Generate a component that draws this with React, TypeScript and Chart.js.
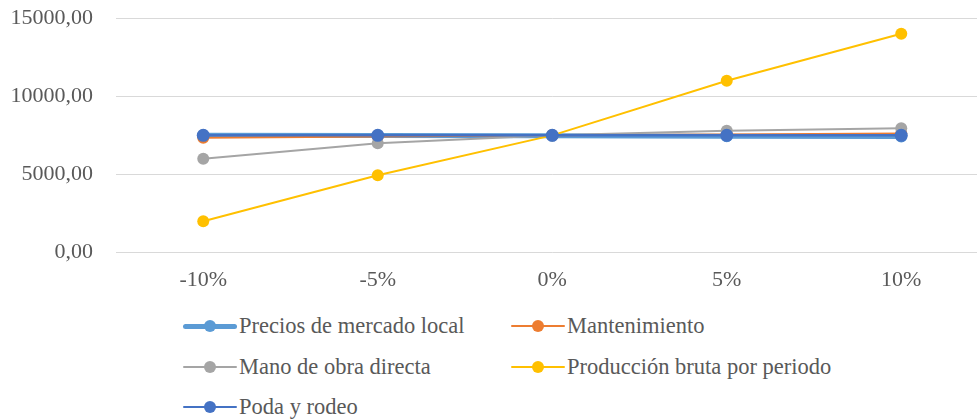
import React, { useEffect, useRef } from "react";
import { Chart, registerables } from "chart.js";

Chart.register(...registerables);

const categories = ["-10%", "-5%", "0%", "5%", "10%"];
const preciosMercado = [7500, 7490, 7480, 7440, 7420];
const mantenimiento = [7350, 7430, 7500, 7560, 7620];
const manoObra = [6000, 7000, 7500, 7800, 7950];
const produccionBruta = [2000, 4950, 7500, 11000, 14000];
const podaRodeo = [7500, 7500, 7500, 7500, 7500];
const yTicks = [0, 5000, 10000, 15000];

const seriesNames = [
  "Precios de mercado local",
  "Mantenimiento",
  "Mano de obra directa",
  "Producción bruta por periodo",
  "Poda y rodeo",
];
const seriesColors = ["#5B9BD5", "#ED7D31", "#A5A5A5", "#FFC000", "#4472C4"];
const seriesWidths = [5, 2, 2, 2, 2.5];
const seriesData = [preciosMercado, mantenimiento, manoObra, produccionBruta, podaRodeo];

const FONT = '"Liberation Serif", "Times New Roman", serif';
const TEXT = "#595959";
const CANVAS_W = 995;
const CANVAS_H = 318;
const SHIFT = -18;

export default function App() {
  const ref = useRef<HTMLCanvasElement | null>(null);
  useEffect(() => {
    if (!ref.current) return;
    const chart = new Chart(ref.current, {
      type: "line",
      data: {
        labels: categories,
        datasets: seriesNames.map((name, i) => ({
          label: name,
          data: seriesData[i],
          borderColor: seriesColors[i],
          backgroundColor: seriesColors[i],
          borderWidth: seriesWidths[i],
          pointRadius: i === 4 ? 6.5 : 6,
          pointBorderWidth: 0,
          pointBackgroundColor: seriesColors[i],
          pointHoverRadius: 6,
          tension: 0,
          order: 4 - i,
        })),
      },
      options: {
        animation: false,
        responsive: false,
        maintainAspectRatio: false,
        layout: { padding: { top: 0, right: 1, left: 0, bottom: 0 } },
        plugins: { legend: { display: false }, tooltip: { enabled: false } },
        scales: {
          x: {
            type: "category",
            offset: true,
            grid: { display: false, drawTicks: false },
            border: { display: false },
            ticks: { color: TEXT, font: { family: FONT, size: 22 }, padding: 15 },
            afterFit: (s: any) => {
              s.height = CANVAS_H + SHIFT - 252.5;
            },
          },
          y: {
            min: 0,
            max: 15000,
            afterBuildTicks: (s: any) => {
              s.ticks = yTicks.map((v) => ({ value: v }));
            },
            grid: { color: "#D9D9D9", lineWidth: 1, drawTicks: false },
            border: { display: false },
            ticks: {
              color: TEXT,
              font: { family: FONT, size: 22 },
              padding: 23,
              callback: (v: any) => Number(v).toFixed(2).replace(".", ","),
            },
            afterFit: (s: any) => {
              s.width = 116;
            },
          },
        },
      },
    });
    return () => chart.destroy();
  }, []);

  const legendRows = [
    [0, 1],
    [2, 3],
    [4],
  ];
  const colX = [183, 511];
  const rowY = [326, 367, 407];

  return (
    <div
      style={{
        position: "fixed",
        left: 0,
        top: 0,
        width: 977,
        height: 419,
        overflow: "hidden",
        background: "#fff",
      }}
    >
      <div style={{ position: "absolute", left: 0, top: SHIFT, width: CANVAS_W, height: CANVAS_H }}>
        <canvas
          ref={ref}
          width={CANVAS_W}
          height={CANVAS_H}
          style={{ width: CANVAS_W, height: CANVAS_H, display: "block" }}
        />
      </div>
      {legendRows.map((row, r) =>
        row.map((idx, c) => (
          <div
            key={idx}
            style={{
              position: "absolute",
              left: colX[c],
              top: rowY[r] - 14,
              height: 28,
              display: "flex",
              alignItems: "center",
              whiteSpace: "nowrap",
              fontFamily: FONT,
              fontSize: 22.5,
              color: TEXT,
            }}
          >
            <div style={{ position: "relative", width: 54, height: 28, marginRight: 2 }}>
              <div
                style={{
                  position: "absolute",
                  left: 0,
                  right: 0,
                  top: 14 - seriesWidths[idx] / 2,
                  height: seriesWidths[idx],
                  background: seriesColors[idx],
                  borderRadius: seriesWidths[idx] / 2,
                }}
              />
              <div
                style={{
                  position: "absolute",
                  left: 27 - 6,
                  top: 14 - 6,
                  width: 12,
                  height: 12,
                  borderRadius: 6,
                  background: seriesColors[idx],
                }}
              />
            </div>
            <span>{seriesNames[idx]}</span>
          </div>
        ))
      )}
    </div>
  );
}
